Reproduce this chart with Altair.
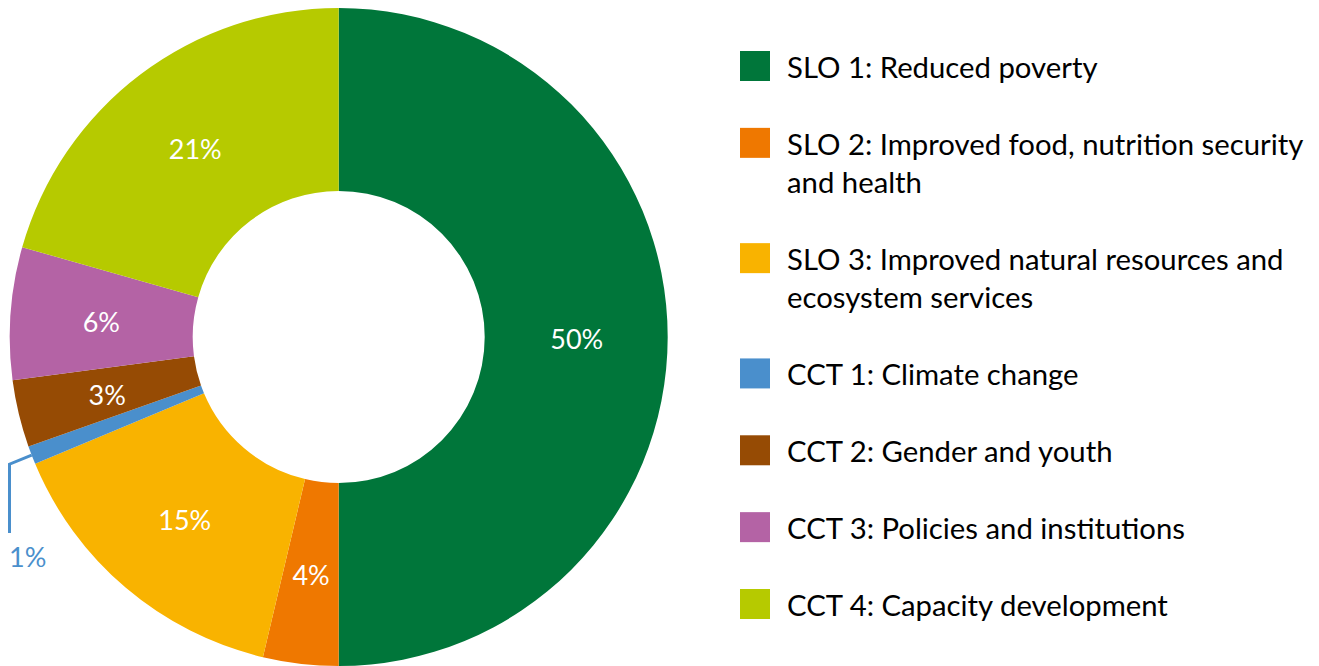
import math
import altair as alt
import pandas as pd

# ---- data ----
keys = ["SLO 1", "SLO 2", "SLO 3", "CCT 1", "CCT 2", "CCT 3", "CCT 4"]
legend_labels = [
    "SLO 1: Reduced poverty",
    "SLO 2: Improved food, nutrition security\nand health",
    "SLO 3: Improved natural resources and\necosystem services",
    "CCT 1: Climate change",
    "CCT 2: Gender and youth",
    "CCT 3: Policies and institutions",
    "CCT 4: Capacity development",
]
shares = [50.0, 3.7, 15.0, 0.9, 3.3, 6.5, 20.6]
pct_labels = ["50%", "4%", "15%", "1%", "3%", "6%", "21%"]
inside = [True, True, True, False, True, True, True]
colors = ["#00763A", "#EF7800", "#F9B300", "#4A8FCC", "#964B04", "#B463A5", "#B6CA00"]
legend_slots = [0, 1, 2.5, 4, 5, 6, 7]

W, H = 1303, 658
CX, CY = 330.7, 329.0
R_OUT, R_IN, R_LAB = 329, 146, 238

df = pd.DataFrame({
    "key": keys,
    "share": shares,
    "idx": list(range(len(keys))),
    "pct": pct_labels,
    "inlab": [p if i else "" for p, i in zip(pct_labels, inside)],
    "legend": legend_labels,
    "slot": legend_slots,
})

color_scale = alt.Scale(domain=keys, range=colors)

arcs = alt.Chart(df).mark_arc(radius=R_OUT, radius2=R_IN).encode(
    theta=alt.Theta("share:Q", stack=True),
    color=alt.Color("key:N", scale=color_scale, legend=None),
    order=alt.Order("idx:Q"),
    x=alt.value(CX),
    y=alt.value(CY),
)

labels = alt.Chart(df).mark_text(
    radius=R_LAB, font="Lato", fontSize=27, color="white", dy=4
).encode(
    theta=alt.Theta("share:Q", stack=True),
    detail="key:N",
    order=alt.Order("idx:Q"),
    text="inlab:N",
    x=alt.value(CX),
    y=alt.value(CY),
)

# leader line for the small slice, derived from the slice's mid angle
cum_before = sum(shares[:3])
mid = (cum_before + shares[3] / 2) / 100 * 2 * math.pi
p0x = CX + R_OUT * math.sin(mid)
p0y = CY - R_OUT * math.cos(mid)
lead = pd.DataFrame({
    "px": [p0x, 1.5, 1.5],
    "py": [p0y, p0y + 9, 525],
    "o": [0, 1, 2],
})
xpix = alt.Scale(domain=[0, W], range=[0, W])
ypix = alt.Scale(domain=[0, H], range=[0, H])

leader = alt.Chart(lead).mark_line(color=colors[3], strokeWidth=3).encode(
    x=alt.X("px:Q", scale=xpix, axis=None),
    y=alt.Y("py:Q", scale=ypix, axis=None),
    order="o:Q",
)

out_df = pd.DataFrame({"px": [1], "py": [559], "t": [pct_labels[3]]})
out_label = alt.Chart(out_df).mark_text(
    font="Lato", fontSize=27, color=colors[3], align="left", baseline="alphabetic"
).encode(
    x=alt.X("px:Q", scale=xpix, axis=None),
    y=alt.Y("py:Q", scale=ypix, axis=None),
    text="t:N",
)

yleg = alt.Scale(domain=[0, 7], range=[58, 596])
legend_sq = alt.Chart(df).mark_square(size=900, opacity=1).encode(
    x=alt.value(747),
    y=alt.Y("slot:Q", scale=yleg, axis=None),
    color=alt.Color("key:N", scale=color_scale, legend=None),
)
legend_txt = alt.Chart(df).mark_text(
    font="Lato", fontSize=29.3, color="black", align="left",
    baseline="alphabetic", lineBreak="\n", lineHeight=38, dy=12,
).encode(
    x=alt.value(779),
    y=alt.Y("slot:Q", scale=yleg, axis=None),
    text="legend:N",
)

chart = alt.layer(
    arcs, labels, leader, out_label, legend_sq, legend_txt
).resolve_scale(
    x="independent", y="independent"
).properties(
    width=W, height=H, autosize="none", padding=0
).configure_view(stroke=None)

chart.save("out.html", embed_options={"renderer": "svg", "actions": False})
